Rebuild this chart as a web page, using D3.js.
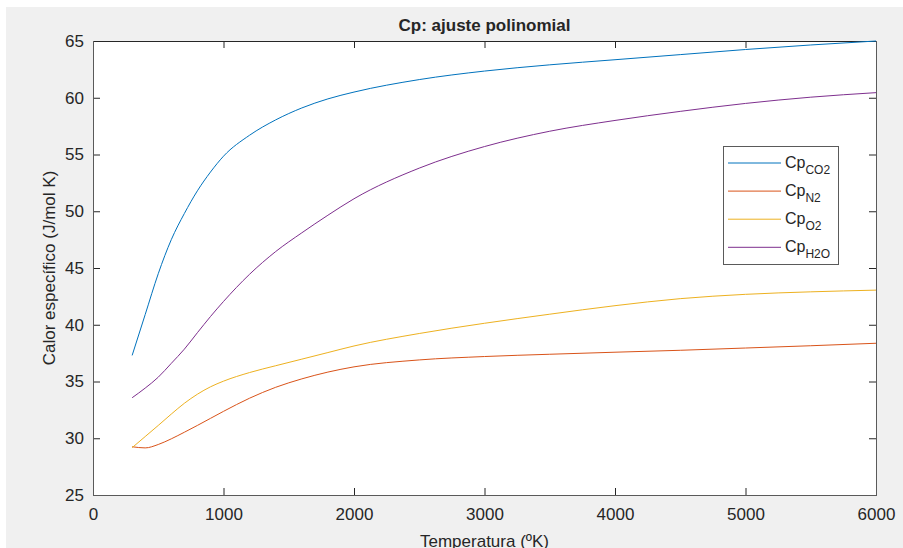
<!DOCTYPE html>
<html>
<head>
<meta charset="utf-8">
<script src="https://cdn.jsdelivr.net/npm/d3@7"></script>
<style>
  body { margin: 0; background: #fff; }
  text { font-family: "Liberation Sans", Arial, sans-serif; fill: #262626; }
</style>
</head>
<body>
<svg class="cp" width="903" height="548"></svg>
<script>
// temperatures (K) and Cp values
const temps = [300, 400, 500, 600, 700, 800, 900, 1000, 1200, 1400, 1600, 1800, 2000, 2500, 3000, 3500, 4000, 4500, 5000, 5500, 6000]
const cpCO2 = [37.3, 40.9, 44.5, 47.5, 49.8, 51.8, 53.45, 54.85, 56.7, 58.05, 59.1, 59.9, 60.5, 61.6, 62.35, 62.9, 63.35, 63.8, 64.25, 64.65, 65.0]
const cpN2 = [29.25, 29.15, 29.45, 29.95, 30.53, 31.13, 31.75, 32.37, 33.53, 34.49, 35.23, 35.83, 36.29, 36.9, 37.2, 37.4, 37.58, 37.75, 37.95, 38.15, 38.37]
const cpO2 = [29.17, 30.15, 31.13, 32.13, 33.08, 33.88, 34.53, 35.03, 35.79, 36.39, 36.97, 37.55, 38.13, 39.23, 40.13, 40.93, 41.68, 42.3, 42.68, 42.9, 43.05]
const cpH2O = [33.57, 34.42, 35.38, 36.6, 37.85, 39.3, 40.72, 42.05, 44.45, 46.45, 48.1, 49.65, 51.1, 53.8, 55.7, 57.05, 58.0, 58.8, 59.5, 60.05, 60.45]

const seriesNames = ['CO2', 'N2', 'O2', 'H2O']
const seriesVals = [cpCO2, cpN2, cpO2, cpH2O]
const colors = ['#0072BD', '#D95319', '#EDB120', '#7E2F8E']
const xTicks = [0, 1000, 2000, 3000, 4000, 5000, 6000]
const yTicks = [25, 30, 35, 40, 45, 50, 55, 60, 65]

const svg = d3.select('.cp')
const margin = { top: 41, left: 93 }
const innerWidth = 783
const innerHeight = 454

// figure background
svg.append('rect').attr('x', 6).attr('y', 7).attr('width', 897).attr('height', 541).attr('fill', '#f0f0f0')

const g = svg.append('g').attr('transform', `translate(${margin.left},${margin.top})`)
g.append('rect').attr('width', innerWidth).attr('height', innerHeight).attr('fill', '#fff')

const xscale = d3.scaleLinear().domain([0, 6000]).range([0, innerWidth])
const yscale = d3.scaleLinear().domain([25, 65]).range([innerHeight, 0])

const xAxis = d3.axisBottom(xscale).tickValues(xTicks).tickFormat(d3.format('d'))
    .tickSizeInner(-7).tickSizeOuter(0).tickPadding(13)
const yAxis = d3.axisLeft(yscale).tickValues(yTicks).tickFormat(d3.format('d'))
    .tickSizeInner(-7).tickSizeOuter(0).tickPadding(9)

const styleAxis = sel => {
    sel.select('.domain').remove()
    sel.selectAll('line').attr('stroke', '#262626')
    sel.selectAll('text').attr('fill', '#262626').style('font-size', '17px')
        .style('font-family', '"Liberation Sans", Arial, sans-serif')
}

g.append('g').attr('transform', `translate(0,${innerHeight})`).call(xAxis).call(styleAxis)
g.append('g').call(yAxis).call(styleAxis)
g.append('g').call(d3.axisTop(xscale).tickValues(xTicks).tickSizeInner(-7).tickSizeOuter(0).tickFormat(''))
    .call(styleAxis)
g.append('g').attr('transform', `translate(${innerWidth},0)`)
    .call(d3.axisRight(yscale).tickValues(yTicks).tickSizeInner(-7).tickSizeOuter(0).tickFormat(''))
    .call(styleAxis)

// axes box
g.append('line').attr('x1', 0).attr('x2', innerWidth).attr('y1', 0.5).attr('y2', 0.5).attr('stroke', '#262626')
g.append('line').attr('x1', 0).attr('x2', innerWidth).attr('y1', innerHeight + 0.5).attr('y2', innerHeight + 0.5).attr('stroke', '#5a5a5a')
g.append('line').attr('x1', 0.5).attr('x2', 0.5).attr('y1', 0).attr('y2', innerHeight).attr('stroke', '#5a5a5a')
g.append('line').attr('x1', innerWidth + 0.5).attr('x2', innerWidth + 0.5).attr('y1', 0).attr('y2', innerHeight + 1).attr('stroke', '#5a5a5a')

// curves
const line = d3.line()
    .x(d => xscale(d[0]))
    .y(d => yscale(d[1]))
    .curve(d3.curveMonotoneX)

seriesVals.forEach((vals, i) => {
    g.append('path')
        .datum(temps.map((t, j) => [t, vals[j]]))
        .attr('fill', 'none')
        .attr('stroke', colors[i])
        .attr('stroke-width', 1)
        .attr('d', line)
})

// title and labels
svg.append('text').attr('x', margin.left + innerWidth / 2).attr('y', 31)
    .attr('text-anchor', 'middle').style('font-size', '17px').style('font-weight', 'bold')
    .text('Cp: ajuste polinomial')
svg.append('text').attr('x', margin.left + innerWidth / 2).attr('y', 547)
    .attr('text-anchor', 'middle').style('font-size', '17px')
    .text('Temperatura (ºK)')
svg.append('text').attr('transform', `translate(55,${margin.top + innerHeight / 2}) rotate(-90)`)
    .attr('text-anchor', 'middle').style('font-size', '17px')
    .text('Calor específico (J/mol K)')

// legend
const legend = svg.append('g').attr('transform', 'translate(723,146)')
legend.append('rect').attr('x', 0.5).attr('y', 0.5).attr('width', 115).attr('height', 118)
    .attr('fill', '#fff').attr('stroke', '#5a5a5a')
seriesNames.forEach((name, i) => {
    const yy = 17 + i * 28.1
    legend.append('line').attr('x1', 5).attr('x2', 58).attr('y1', yy).attr('y2', yy)
        .attr('stroke', colors[i]).attr('stroke-width', 1)
    const t = legend.append('text').attr('x', 62).attr('y', yy + 5).style('font-size', '16px')
    t.append('tspan').text('Cp')
    t.append('tspan').attr('dy', 6).style('font-size', '12px').text(name)
})
</script>
</body>
</html>
